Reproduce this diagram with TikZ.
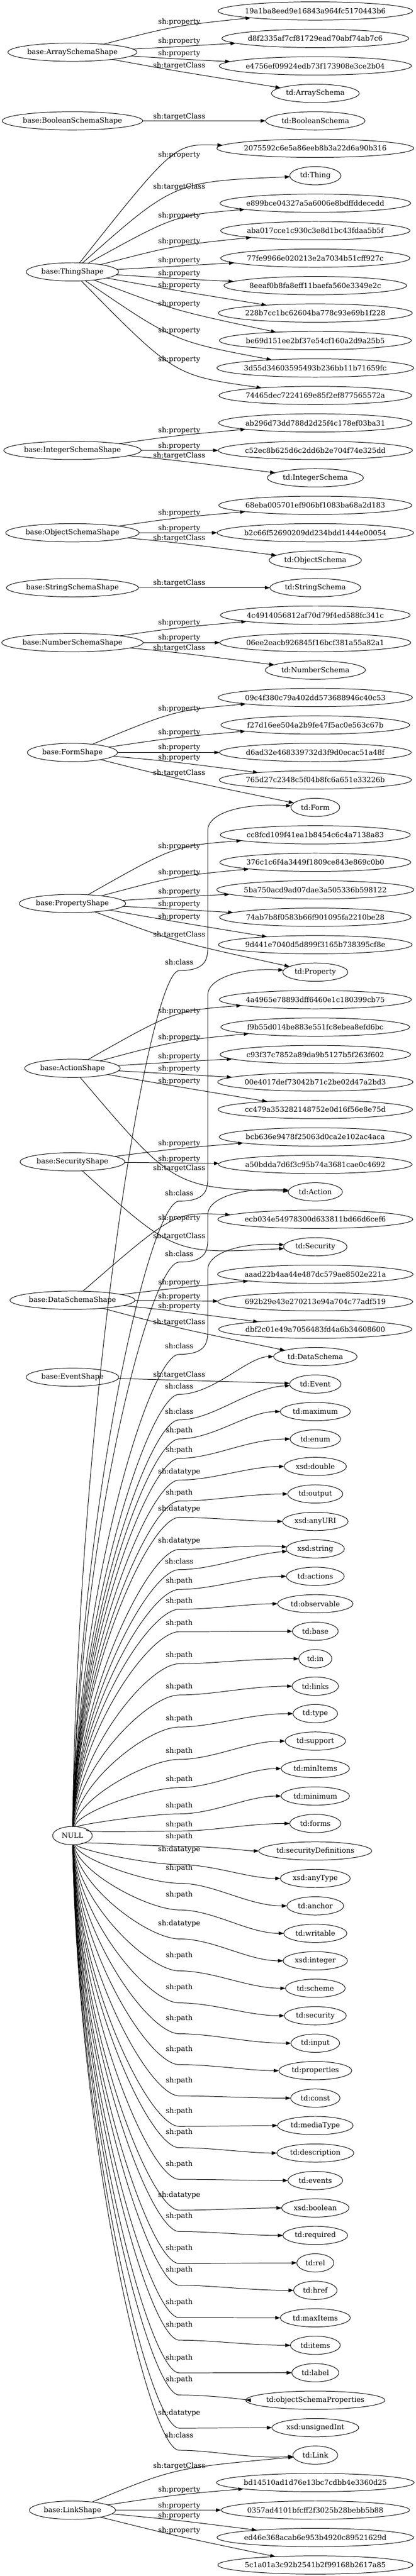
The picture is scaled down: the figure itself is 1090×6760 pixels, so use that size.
\documentclass[tikz,border=0pt]{standalone}
\usepackage{fontspec}
\setmainfont{DejaVu Serif}
\usepackage{tikz}
\usetikzlibrary{shapes.geometric, arrows.meta, positioning, calc}

\begin{document}
\begin{tikzpicture}[
    x=0.75pt, y=-0.75pt,
    gvnode/.style={ellipse, draw, line width=1pt, minimum height=36pt, minimum width=54pt, inner xsep=7.92pt, inner ysep=2pt, outer sep=0pt, font=\fontsize{14pt}{17pt}\selectfont,
        execute at begin node={\setbox0=\hbox\bgroup}, execute at end node={\egroup\hbox to 0.92\wd0{\hss\box0\hss}}},
    arrow/.style={-{Triangle[length=10pt, width=7pt]}, line width=1pt},
    edgelbl/.style={font=\fontsize{14pt}{17pt}\selectfont, inner sep=0pt},
    propto/.style={to path={.. controls ($4/3*(470,#1+14) - 1/6*(\tikztostart) - 1/6*(\tikztotarget)$) .. (\tikztotarget)}},
    nullpath/.style 2 args={to path={.. controls ($(205,0 |- \tikztostart)!.5!(205,#1)$) and (390,#1) .. (470,#1)
        .. controls (560,#1) and ($(650,0 |- \tikztotarget)+(0,#2)$) .. (\tikztotarget)}},
    classpath/.style={to path={.. controls ($(205,0 |- \tikztostart)!.5!(205,#1)$) and (390,#1) .. (470,#1)
        .. controls (535,#1) and (545,#1-25) .. (545,#1-60) -- ($(545,0 |- \tikztotarget)+(0,60)$)
        .. controls ($(545,0 |- \tikztotarget)+(0,15)$) and ($(545,0 |- \tikztotarget)+(90,-12)$) .. (\tikztotarget)}},
    node distance=18.05pt
]
    \useasboundingbox (0,0) rectangle (1090,6760);

    % Shapes
    \node[gvnode] (arrayShape) at (190,137) {base:ArraySchemaShape};
    \node[gvnode] (booleanShape) at (190,317.1) {base:BooleanSchemaShape};
    \node[gvnode] (thingShape) at (190,713.5) {base:ThingShape};
    \node[gvnode] (integerShape) at (190,1181.9) {base:IntegerSchemaShape};
    \node[gvnode] (objectShape) at (190,1398.1) {base:ObjectSchemaShape};
    \node[gvnode] (stringShape) at (190,1542.3) {base:StringSchemaShape};
    \node[gvnode] (numberShape) at (190,1686.4) {base:NumberSchemaShape};
    \node[gvnode] (formShape) at (190,1974.7) {base:FormShape};
    \node[gvnode] (propertyShape) at (190,2371.1) {base:PropertyShape};
    \node[gvnode] (actionShape) at (190,2803.5) {base:ActionShape};
    \node[gvnode] (securityShape) at (190,3049) {base:SecurityShape};
    \node[gvnode] (dataSchemaShape) at (190,3412) {base:DataSchemaShape};
    \node[gvnode] (eventShape) at (190,3614) {base:EventShape};
    \node[gvnode] (null) at (190,4817) {NULL};
    \node[gvnode] (linkShape) at (190,6587.2) {base:LinkShape};

    % Targets
    \node[gvnode] (h19a1) at (827,28.8) {19a1ba8eed9e16843a964fc5170443b6};
    \node[gvnode, below=of h19a1] (hd8f2) {d8f2335af7cf81729ead70abf74ab7c6};
    \node[gvnode, below=of hd8f2] (he475) {e4756ef09924edb73f173908e3ce2b04};
    \node[gvnode, below=of he475] (arraySchema) {td:ArraySchema};
    \node[gvnode, below=of arraySchema] (booleanSchema) {td:BooleanSchema};
    \node[gvnode, below=of booleanSchema] (h2075) {2075592c6e5a86eeb8b3a22d6a90b316};
    \node[gvnode, below=of h2075] (thing) {td:Thing};
    \node[gvnode, below=of thing] (he899) {e899bce04327a5a6006e8bdffddecedd};
    \node[gvnode, below=of he899] (haba0) {aba017cce1c930c3e8d1bc43fdaa5b5f};
    \node[gvnode, below=of haba0] (h77fe) {77fe9966e020213e2a7034b51cff927c};
    \node[gvnode, below=of h77fe] (h8eea) {8eeaf0b8fa8eff11baefa560e3349e2c};
    \node[gvnode, below=of h8eea] (h228b) {228b7cc1bc62604ba778c93e69b1f228};
    \node[gvnode, below=of h228b] (hbe69) {be69d151ee2bf37e54cf160a2d9a25b5};
    \node[gvnode, below=of hbe69] (h3d55) {3d55d34603595493b236bb11b71659fc};
    \node[gvnode, below=of h3d55] (h7446) {74465dec7224169e85f2ef877565572a};
    \node[gvnode, below=of h7446] (hab29) {ab296d73dd788d2d25f4c178ef03ba31};
    \node[gvnode, below=of hab29] (hc52e) {c52ec8b625d6c2dd6b2e704f74e325dd};
    \node[gvnode, below=of hc52e] (integerSchema) {td:IntegerSchema};
    \node[gvnode, below=of integerSchema] (h68eb) {68eba005701ef906bf1083ba68a2d183};
    \node[gvnode, below=of h68eb] (hb2c6) {b2c66f52690209dd234bdd1444e00054};
    \node[gvnode, below=of hb2c6] (objectSchema) {td:ObjectSchema};
    \node[gvnode, below=of objectSchema] (stringSchema) {td:StringSchema};
    \node[gvnode, below=of stringSchema] (h4c49) {4c4914056812af70d79f4ed588fc341c};
    \node[gvnode, below=of h4c49] (h06ee) {06ee2eacb926845f16bcf381a55a82a1};
    \node[gvnode, below=of h06ee] (numberSchema) {td:NumberSchema};
    \node[gvnode, below=of numberSchema] (h09c4) {09c4f380c79a402dd573688946c40c53};
    \node[gvnode, below=of h09c4] (hf27d) {f27d16ee504a2b9fe47f5ac0e563c67b};
    \node[gvnode, below=of hf27d] (hd6ad) {d6ad32e468339732d3f9d0ecac51a48f};
    \node[gvnode, below=of hd6ad] (h765d) {765d27c2348c5f04b8fc6a651e33226b};
    \node[gvnode, below=of h765d] (form) {td:Form};
    \node[gvnode, below=of form] (hcc8f) {cc8fcd109f41ea1b8454c6c4a7138a83};
    \node[gvnode, below=of hcc8f] (h376c) {376c1c6f4a3449f1809ce843e869c0b0};
    \node[gvnode, below=of h376c] (h5ba7) {5ba750acd9ad07dae3a505336b598122};
    \node[gvnode, below=of h5ba7] (h74ab) {74ab7b8f0583b66f901095fa2210be28};
    \node[gvnode, below=of h74ab] (h9d44) {9d441e7040d5d899f3165b738395cf8e};
    \node[gvnode, below=of h9d44] (property) {td:Property};
    \node[gvnode, below=of property] (h4a49) {4a4965e78893dff6460e1c180399cb75};
    \node[gvnode, below=of h4a49] (hf9b5) {f9b55d014be883e551fc8ebea8efd6bc};
    \node[gvnode, below=of hf9b5] (hc93f) {c93f37c7852a89da9b5127b5f263f602};
    \node[gvnode, below=of hc93f] (h00e4) {00e4017def73042b71c2be02d47a2bd3};
    \node[gvnode, below=of h00e4] (hcc47) {cc479a353282148752e0d16f56e8e75d};
    \node[gvnode, below=of hcc47] (hbcb6) {bcb636e9478f25063d0ca2e102ac4aca};
    \node[gvnode, below=of hbcb6] (ha50b) {a50bdda7d6f3c95b74a3681cae0c4692};
    \node[gvnode, below=of ha50b] (action) {td:Action};
    \node[gvnode, below=of action] (hecb0) {ecb034e54978300d633811bd66d6cef6};
    \node[gvnode, below=of hecb0] (security) {td:Security};
    \node[gvnode, below=of security] (haaad) {aaad22b4aa44e487dc579ae8502e221a};
    \node[gvnode, below=of haaad] (h692b) {692b29e43e270213e94a704c77adf519};
    \node[gvnode, below=of h692b] (hdbf2) {dbf2c01e49a7056483fd4a6b34608600};
    \node[gvnode, below=of hdbf2] (dataSchema) {td:DataSchema};
    \node[gvnode, below=of dataSchema] (event) {td:Event};
    \node[gvnode, below=of event] (maximum) {td:maximum};
    \node[gvnode, below=of maximum] (enum) {td:enum};
    \node[gvnode, below=of enum] (double) {xsd:double};
    \node[gvnode, below=of double] (output) {td:output};
    \node[gvnode, below=of output] (anyURI) {xsd:anyURI};
    \node[gvnode, below=of anyURI] (string) {xsd:string};
    \node[gvnode, below=of string] (actions) {td:actions};
    \node[gvnode, below=of actions] (observable) {td:observable};
    \node[gvnode, below=of observable] (base) {td:base};
    \node[gvnode, below=of base] (tdIn) {td:in};
    \node[gvnode, below=of tdIn] (links) {td:links};
    \node[gvnode, below=of links] (type) {td:type};
    \node[gvnode, below=of type] (support) {td:support};
    \node[gvnode, below=of support] (minItems) {td:minItems};
    \node[gvnode, below=of minItems] (minimum) {td:minimum};
    \node[gvnode, below=of minimum] (forms) {td:forms};
    \node[gvnode, below=of forms] (securityDefinitions) {td:securityDefinitions};
    \node[gvnode, below=of securityDefinitions] (anyType) {xsd:anyType};
    \node[gvnode, below=of anyType] (anchor) {td:anchor};
    \node[gvnode, below=of anchor] (writable) {td:writable};
    \node[gvnode, below=of writable] (integer) {xsd:integer};
    \node[gvnode, below=of integer] (scheme) {td:scheme};
    \node[gvnode, below=of scheme] (securityTerm) {td:security};
    \node[gvnode, below=of securityTerm] (input) {td:input};
    \node[gvnode, below=of input] (properties) {td:properties};
    \node[gvnode, below=of properties] (const) {td:const};
    \node[gvnode, below=of const] (mediaType) {td:mediaType};
    \node[gvnode, below=of mediaType] (description) {td:description};
    \node[gvnode, below=of description] (events) {td:events};
    \node[gvnode, below=of events] (boolean) {xsd:boolean};
    \node[gvnode, below=of boolean] (required) {td:required};
    \node[gvnode, below=of required] (rel) {td:rel};
    \node[gvnode, below=of rel] (href) {td:href};
    \node[gvnode, below=of href] (maxItems) {td:maxItems};
    \node[gvnode, below=of maxItems] (items) {td:items};
    \node[gvnode, below=of items] (tdLabel) {td:label};
    \node[gvnode, below=of tdLabel] (objectSchemaProperties) {td:objectSchemaProperties};
    \node[gvnode, below=of objectSchemaProperties] (unsignedInt) {xsd:unsignedInt};
    \node[gvnode, below=of unsignedInt] (link) {td:Link};
    \node[gvnode, below=of link] (hbd14) {bd14510ad1d76e13bc7cdbb4e3360d25};
    \node[gvnode, below=of hbd14] (h0357) {0357ad4101bfcff2f3025b28bebb5b88};
    \node[gvnode, below=of h0357] (hed46) {ed46e368acab6e953b4920c89521629d};
    \node[gvnode, below=of hed46] (h5c1a) {5c1a01a3c92b2541b2f99168b2617a85};

    % Shape connections
    \draw[arrow] (arrayShape) to[propto=57.7] (h19a1) node[edgelbl] at (470,57.7) {sh:property};
    \draw[arrow] (arrayShape) to[propto=108] (hd8f2) node[edgelbl] at (470,108) {sh:property};
    \draw[arrow] (arrayShape) to[propto=140.5] (he475) node[edgelbl] at (470,140.5) {sh:property};
    \draw[arrow] (arrayShape) to[propto=173] (arraySchema) node[edgelbl] at (470,173) {sh:targetClass};
    \draw[arrow] (booleanShape) -- (booleanSchema) node[edgelbl] at (470,306) {sh:targetClass};
    \draw[arrow] (thingShape) to[propto=406.5] (h2075) node[edgelbl] at (470,406.5) {sh:property};
    \draw[arrow] (thingShape) to[propto=490] (thing) node[edgelbl] at (470,490) {sh:targetClass};
    \draw[arrow] (thingShape) to[propto=566] (he899) node[edgelbl] at (470,566) {sh:property};
    \draw[arrow] (thingShape) to[propto=634] (haba0) node[edgelbl] at (470,634) {sh:property};
    \draw[arrow] (thingShape) to[propto=684] (h77fe) node[edgelbl] at (470,684) {sh:property};
    \draw[arrow] (thingShape) to[propto=717] (h8eea) node[edgelbl] at (470,717) {sh:property};
    \draw[arrow] (thingShape) to[propto=749] (h228b) node[edgelbl] at (470,749) {sh:property};
    \draw[arrow] (thingShape) to[propto=798] (hbe69) node[edgelbl] at (470,798) {sh:property};
    \draw[arrow] (thingShape) to[propto=868] (h3d55) node[edgelbl] at (470,868) {sh:property};
    \draw[arrow] (thingShape) to[propto=944] (h7446) node[edgelbl] at (470,944) {sh:property};
    \draw[arrow] (integerShape) to[propto=1130] (hab29) node[edgelbl] at (470,1130) {sh:property};
    \draw[arrow] (integerShape) -- (hc52e) node[edgelbl] at (470,1170) {sh:property};
    \draw[arrow] (integerShape) to[propto=1196] (integerSchema) node[edgelbl] at (470,1196) {sh:targetClass};
    \draw[arrow] (objectShape) to[propto=1346] (h68eb) node[edgelbl] at (470,1346) {sh:property};
    \draw[arrow] (objectShape) -- (hb2c6) node[edgelbl] at (470,1387) {sh:property};
    \draw[arrow] (objectShape) to[propto=1412] (objectSchema) node[edgelbl] at (470,1412) {sh:targetClass};
    \draw[arrow] (stringShape) -- (stringSchema) node[edgelbl] at (470,1530) {sh:targetClass};
    \draw[arrow] (numberShape) to[propto=1634.6] (h4c49) node[edgelbl] at (470,1634.6) {sh:property};
    \draw[arrow] (numberShape) -- (h06ee) node[edgelbl] at (470,1674) {sh:property};
    \draw[arrow] (numberShape) to[propto=1700] (numberSchema) node[edgelbl] at (470,1700) {sh:targetClass};
    \draw[arrow] (formShape) to[propto=1860] (h09c4) node[edgelbl] at (470,1860) {sh:property};
    \draw[arrow] (formShape) to[propto=1922] (hf27d) node[edgelbl] at (470,1922) {sh:property};
    \draw[arrow] (formShape) -- (hd6ad) node[edgelbl] at (470,1962) {sh:property};
    \draw[arrow] (formShape) to[propto=1988] (h765d) node[edgelbl] at (470,1988) {sh:property};
    \draw[arrow] (formShape) to[propto=2029.5] (form) node[edgelbl] at (470,2029.5) {sh:targetClass};
    \draw[arrow] (propertyShape) to[propto=2221] (hcc8f) node[edgelbl] at (470,2221) {sh:property};
    \draw[arrow] (propertyShape) to[propto=2290] (h376c) node[edgelbl] at (470,2290) {sh:property};
    \draw[arrow] (propertyShape) to[propto=2340] (h5ba7) node[edgelbl] at (470,2340) {sh:property};
    \draw[arrow] (propertyShape) to[propto=2372.6] (h74ab) node[edgelbl] at (470,2372.6) {sh:property};
    \draw[arrow] (propertyShape) to[propto=2406] (h9d44) node[edgelbl] at (470,2406) {sh:property};
    \draw[arrow] (propertyShape) to[propto=2454] (property) node[edgelbl] at (470,2454) {sh:targetClass};
    \draw[arrow] (actionShape) to[propto=2653.7] (h4a49) node[edgelbl] at (470,2653.7) {sh:property};
    \draw[arrow] (actionShape) to[propto=2722] (hf9b5) node[edgelbl] at (470,2722) {sh:property};
    \draw[arrow] (actionShape) to[propto=2772.6] (hc93f) node[edgelbl] at (470,2772.6) {sh:property};
    \draw[arrow] (actionShape) to[propto=2805] (h00e4) node[edgelbl] at (470,2805) {sh:property};
    \draw[arrow] (actionShape) to[propto=2838] (hcc47) node[edgelbl] at (470,2838) {sh:property};
    \draw[arrow] (actionShape) to[propto=3066] (action) node[edgelbl] at (470,3066) {sh:targetClass};
    \draw[arrow] (securityShape) to[propto=3001] (hbcb6) node[edgelbl] at (470,3001) {sh:property};
    \draw[arrow] (securityShape) -- (ha50b) node[edgelbl] at (470,3041) {sh:property};
    \draw[arrow] (securityShape) to[propto=3245] (security) node[edgelbl] at (470,3245) {sh:targetClass};
    \draw[arrow] (dataSchemaShape) to[propto=3197.5] (hecb0) node[edgelbl] at (470,3197.5) {sh:property};
    \draw[arrow] (dataSchemaShape) to[propto=3366] (haaad) node[edgelbl] at (470,3366) {sh:property};
    \draw[arrow] (dataSchemaShape) -- (h692b) node[edgelbl] at (470,3402.5) {sh:property};
    \draw[arrow] (dataSchemaShape) to[propto=3428.5] (hdbf2) node[edgelbl] at (470,3428.5) {sh:property};
    \draw[arrow] (dataSchemaShape) to[propto=3470] (dataSchema) node[edgelbl] at (470,3470) {sh:targetClass};
    \draw[arrow] (eventShape) -- (event) node[edgelbl] at (470,3608.6) {sh:targetClass};
    \draw[arrow] (linkShape) to[propto=6472] (link) node[edgelbl] at (470,6472) {sh:targetClass};
    \draw[arrow] (linkShape) to[propto=6534] (hbd14) node[edgelbl] at (470,6534) {sh:property};
    \draw[arrow] (linkShape) -- (h0357) node[edgelbl] at (470,6576) {sh:property};
    \draw[arrow] (linkShape) to[propto=6601] (hed46) node[edgelbl] at (470,6601) {sh:property};
    \draw[arrow] (linkShape) to[propto=6641] (h5c1a) node[edgelbl] at (470,6641) {sh:property};

    % NULL connections
    \draw[arrow] (null) to[classpath=2547] (form) node[edgelbl] at (470,2525) {sh:class};
    \draw[arrow] (null) to[classpath=3152] (property) node[edgelbl] at (470,3130) {sh:class};
    \draw[arrow] (null) to[classpath=3312] (action) node[edgelbl] at (470,3290) {sh:class};
    \draw[arrow] (null) to[classpath=3554] (security) node[edgelbl] at (470,3532) {sh:class};
    \draw[arrow] (null) to[nullpath={3659}{0}] (dataSchema) node[edgelbl] at (470,3637) {sh:class};
    \draw[arrow] (null) to[nullpath={3726}{10}] (event) node[edgelbl] at (470,3704) {sh:class};
    \draw[arrow] (null) to[nullpath={3776}{0}] (maximum) node[edgelbl] at (470,3754) {sh:path};
    \draw[arrow] (null) to[nullpath={3827}{0}] (enum) node[edgelbl] at (470,3805) {sh:path};
    \draw[arrow] (null) to[nullpath={3884}{0}] (double) node[edgelbl] at (470,3862) {sh:datatype};
    \draw[arrow] (null) to[nullpath={3939}{0}] (output) node[edgelbl] at (470,3917) {sh:path};
    \draw[arrow] (null) to[nullpath={3982}{0}] (anyURI) node[edgelbl] at (470,3960) {sh:datatype};
    \draw[arrow] (null) to[nullpath={4066}{-12}] (string) node[edgelbl] at (470,4044) {sh:datatype};
    \draw[arrow] (null) to[nullpath={4119}{15}] (string) node[edgelbl] at (470,4097) {sh:class};
    \draw[arrow] (null) to[nullpath={4171}{0}] (actions) node[edgelbl] at (470,4149) {sh:path};
    \draw[arrow] (null) to[nullpath={4223}{0}] (observable) node[edgelbl] at (470,4201) {sh:path};
    \draw[arrow] (null) to[nullpath={4282}{0}] (base) node[edgelbl] at (470,4260) {sh:path};
    \draw[arrow] (null) to[nullpath={4366}{0}] (tdIn) node[edgelbl] at (470,4344) {sh:path};
    \draw[arrow] (null) to[nullpath={4448}{0}] (links) node[edgelbl] at (470,4426) {sh:path};
    \draw[arrow] (null) to[nullpath={4532}{0}] (type) node[edgelbl] at (470,4510) {sh:path};
    \draw[arrow] (null) to[nullpath={4617}{0}] (support) node[edgelbl] at (470,4595) {sh:path};
    \draw[arrow] (null) to[nullpath={4691}{0}] (minItems) node[edgelbl] at (470,4669) {sh:path};
    \draw[arrow] (null) to[nullpath={4760}{0}] (minimum) node[edgelbl] at (470,4738) {sh:path};
    \draw[arrow] (null) to[nullpath={4805}{0}] (forms) node[edgelbl] at (470,4788) {sh:path};
    \draw[arrow] (null) to[nullpath={4845}{0}] (securityDefinitions) node[edgelbl] at (470,4820) {sh:path};
    \draw[arrow] (null) to[nullpath={4893}{0}] (anyType) node[edgelbl] at (470,4853) {sh:datatype};
    \draw[arrow] (null) to[nullpath={4942}{0}] (anchor) node[edgelbl] at (470,4902) {sh:path};
    \draw[arrow] (null) to[nullpath={5012}{0}] (writable) node[edgelbl] at (470,4972) {sh:path};
    \draw[arrow] (null) to[nullpath={5088}{0}] (integer) node[edgelbl] at (470,5048) {sh:datatype};
    \draw[arrow] (null) to[nullpath={5172}{0}] (scheme) node[edgelbl] at (470,5132) {sh:path};
    \draw[arrow] (null) to[nullpath={5256}{0}] (securityTerm) node[edgelbl] at (470,5216) {sh:path};
    \draw[arrow] (null) to[nullpath={5337}{0}] (input) node[edgelbl] at (470,5297) {sh:path};
    \draw[arrow] (null) to[nullpath={5418}{0}] (properties) node[edgelbl] at (470,5378) {sh:path};
    \draw[arrow] (null) to[nullpath={5500}{0}] (const) node[edgelbl] at (470,5460) {sh:path};
    \draw[arrow] (null) to[nullpath={5580}{0}] (mediaType) node[edgelbl] at (470,5540) {sh:path};
    \draw[arrow] (null) to[nullpath={5636}{0}] (description) node[edgelbl] at (470,5596) {sh:path};
    \draw[arrow] (null) to[nullpath={5719}{0}] (events) node[edgelbl] at (470,5679) {sh:path};
    \draw[arrow] (null) to[nullpath={5800}{0}] (boolean) node[edgelbl] at (470,5760) {sh:datatype};
    \draw[arrow] (null) to[nullpath={5856}{0}] (required) node[edgelbl] at (470,5816) {sh:path};
    \draw[arrow] (null) to[nullpath={5940}{0}] (rel) node[edgelbl] at (470,5900) {sh:path};
    \draw[arrow] (null) to[nullpath={5997}{0}] (href) node[edgelbl] at (470,5957) {sh:path};
    \draw[arrow] (null) to[nullpath={6082}{0}] (maxItems) node[edgelbl] at (470,6042) {sh:path};
    \draw[arrow] (null) to[nullpath={6141}{0}] (items) node[edgelbl] at (470,6101) {sh:path};
    \draw[arrow] (null) to[nullpath={6227}{0}] (tdLabel) node[edgelbl] at (470,6187) {sh:path};
    \draw[arrow] (null) to[nullpath={6285}{0}] (objectSchemaProperties) node[edgelbl] at (470,6245) {sh:path};
    \draw[arrow] (null) to[nullpath={6372}{0}] (unsignedInt) node[edgelbl] at (470,6332) {sh:datatype};
    \draw[arrow] (null) to[nullpath={6430}{10}] (link) node[edgelbl] at (470,6390) {sh:class};

\end{tikzpicture}
\end{document}
